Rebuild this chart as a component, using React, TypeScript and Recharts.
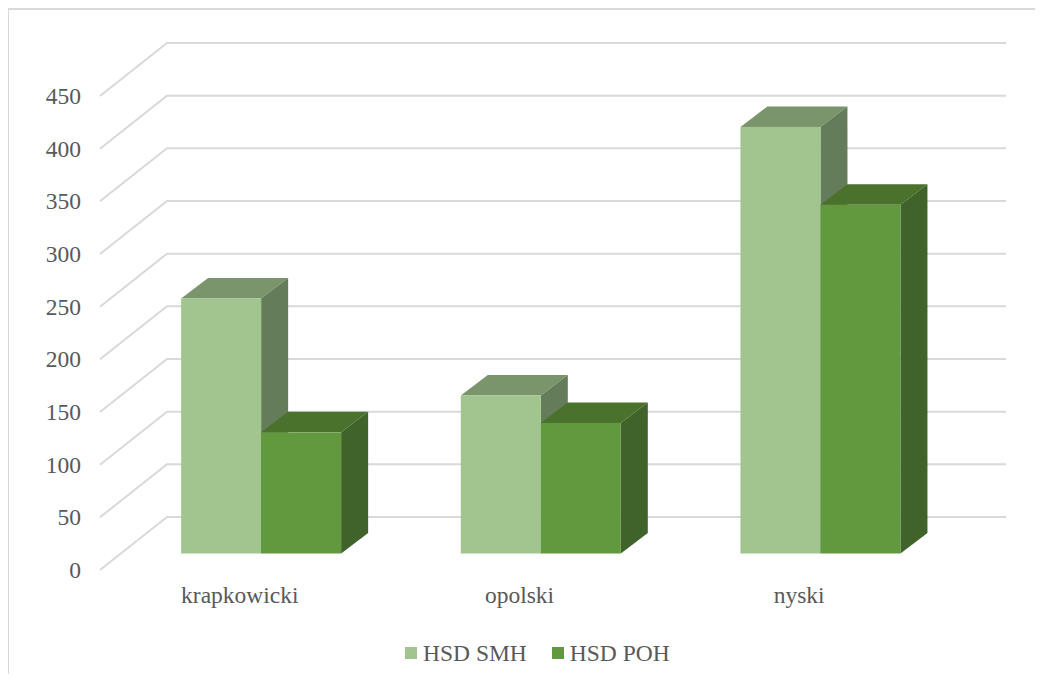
import { BarChart, Bar, XAxis, YAxis, CartesianGrid, Legend } from "recharts"

const categories = ["krapkowicki", "opolski", "nyski"]
const smhValues = [242, 150, 405]
const pohValues = [115, 124, 331]
const yTicks = [0, 50, 100, 150, 200, 250, 300, 350, 400, 450]
const seriesNames = ["HSD SMH", "HSD POH"]

const data = categories.map((name, i) => ({
  name,
  smh: smhValues[i],
  poh: pohValues[i],
}))

// oblique "3D" depth of the floor / back wall
const DEPTH_X = 67
const DEPTH_Y = 53
// where the bar front sits inside the depth, and how deep the bar is
const FRONT_X = 21
const FRONT_Y = 16.5
const BAR_DX = 27
const BAR_DY = 20.5

const FONT = "Liberation Serif, DejaVu Serif, Times New Roman, serif"
const TEXT = "#595959"
const GRID = "#d9d9d9"

const smhColors = { front: "#a2c48f", top: "#7a956b", side: "#647c59" }
const pohColors = { front: "#62993e", top: "#4a722d", side: "#3f632a" }

const make3DBar = (c: { front: string; top: string; side: string }) => (props: any) => {
  const { x, y, width, height } = props
  if (width == null || height == null) return <g />
  const fx = x + FRONT_X
  const fy = y - FRONT_Y
  const bottom = fy + height
  const right = fx + width
  return (
    <g>
      <polygon
        points={`${fx},${fy} ${fx + BAR_DX},${fy - BAR_DY} ${right + BAR_DX},${fy - BAR_DY} ${right},${fy}`}
        fill={c.top}
      />
      <polygon
        points={`${right},${fy} ${right + BAR_DX},${fy - BAR_DY} ${right + BAR_DX},${bottom - BAR_DY} ${right},${bottom}`}
        fill={c.side}
      />
      <rect x={fx} y={fy} width={width} height={height} fill={c.front} />
    </g>
  )
}

const renderGridLine = (props: any) => {
  const { x1, x2, y1, index } = props
  return (
    <polyline
      key={`grid-${index}-${y1}`}
      points={`${x1},${y1} ${x1 + DEPTH_X},${y1 - DEPTH_Y} ${x2 + DEPTH_X},${y1 - DEPTH_Y}`}
      fill="none"
      stroke={GRID}
      strokeWidth={2}
    />
  )
}

const YTick = (props: any) => {
  const { y, payload } = props
  return (
    <text x={72} y={y} textAnchor="end" dominantBaseline="central" style={{ fontFamily: FONT }} fontSize={23.5} fill={TEXT}>
      {payload.value}
    </text>
  )
}

const XTick = (props: any) => {
  const { x, payload } = props
  return (
    <text x={x} y={593} textAnchor="middle" style={{ fontFamily: FONT }} fontSize={23.5} fill={TEXT}>
      {payload.value}
    </text>
  )
}

const renderLegend = (props: any) => {
  const items = [...(props.payload || [])].sort(
    (a: any, b: any) => seriesNames.indexOf(a.value) - seriesNames.indexOf(b.value)
  )
  return (
    <div style={{ display: "flex", alignItems: "center", height: 30 }}>
      {items.map((entry: any, i: number) => (
        <div key={i} style={{ display: "flex", alignItems: "center", marginRight: 25 }}>
          <span style={{ display: "inline-block", width: 12, height: 12, background: entry.color, marginRight: 6 }} />
          <span style={{ fontFamily: FONT, fontSize: 23.5, color: TEXT, lineHeight: "30px" }}>{entry.value}</span>
        </div>
      ))}
    </div>
  )
}

export default function App() {
  return (
    <div
      style={{
        width: 1036,
        height: 666,
        marginLeft: -1,
        borderTop: `2px solid ${GRID}`,
        borderLeft: `2px solid ${GRID}`,
        background: "#fff",
        boxSizing: "border-box",
      }}
    >
      <BarChart
        width={1034}
        height={664}
        data={data}
        margin={{ top: 86, right: 104, left: 0, bottom: 6 }}
        barCategoryGap="21.5%"
        barGap={0}
      >
        <CartesianGrid horizontal={renderGridLine} vertical={false} />
        <XAxis dataKey="name" axisLine={false} tickLine={false} height={68} tick={<XTick />} interval={0} />
        <YAxis
          type="number"
          domain={[0, 450]}
          ticks={yTicks}
          width={91}
          axisLine={false}
          tickLine={false}
          tick={<YTick />}
          interval={0}
        />
        <Legend
          verticalAlign="bottom"
          height={30}
          content={renderLegend}
          wrapperStyle={{ left: 396, width: 320 }}
        />
        <Bar dataKey="smh" name={seriesNames[0]} fill={smhColors.front} shape={make3DBar(smhColors)} isAnimationActive={false} />
        <Bar dataKey="poh" name={seriesNames[1]} fill={pohColors.front} shape={make3DBar(pohColors)} isAnimationActive={false} />
      </BarChart>
    </div>
  )
}
